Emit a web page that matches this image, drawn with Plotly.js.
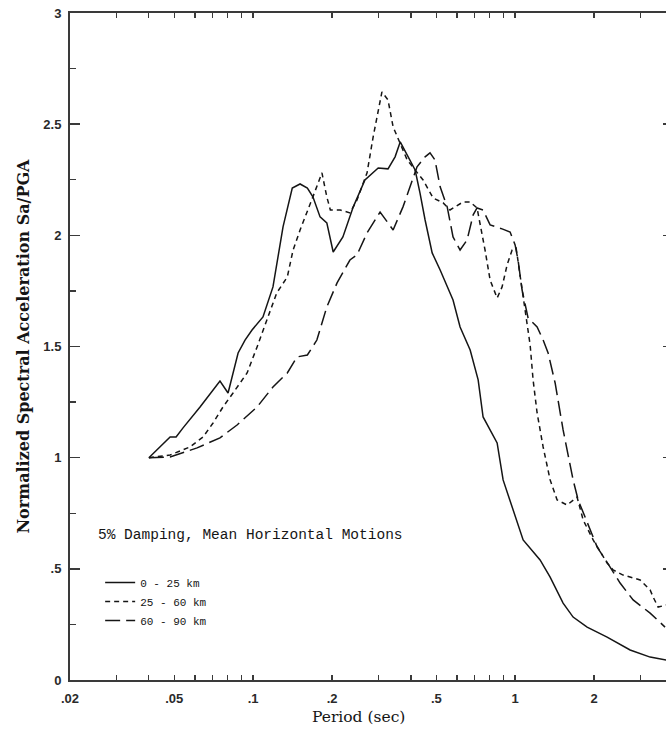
<!DOCTYPE html>
<html>
<head>
<meta charset="utf-8">
<script src="https://cdn.plot.ly/plotly-3.0.1.min.js"></script>
<style>
  html, body { margin: 0; padding: 0; overflow: hidden; background: #fff; }
</style>
</head>
<body>
<div id="chart"></div>
<script>
// Mean normalized response spectra (5% damping), grouped by source distance.
const period_0_25 = [0.04, 0.0441, 0.0482, 0.0508, 0.054, 0.0627, 0.0703, 0.0747, 0.0802, 0.0876,
  0.0931, 0.099, 0.109, 0.119, 0.130, 0.141, 0.151, 0.161, 0.169, 0.180, 0.191, 0.202, 0.220,
  0.241, 0.267, 0.300, 0.327, 0.348, 0.364, 0.387, 0.415, 0.433, 0.453, 0.482, 0.517, 0.579,
  0.616, 0.673, 0.722, 0.754, 0.853, 0.899, 0.973, 1.072, 1.244, 1.359, 1.523, 1.663, 1.881,
  2.242, 2.744, 3.272, 3.77];
const sa_0_25 = [1.0, 1.048, 1.093, 1.093, 1.134, 1.228, 1.305, 1.345, 1.291, 1.471,
  1.529, 1.574, 1.633, 1.768, 2.038, 2.213, 2.231, 2.213, 2.173, 2.083, 2.056, 1.925, 1.993,
  2.128, 2.249, 2.303, 2.299, 2.353, 2.42, 2.362, 2.294, 2.191, 2.069, 1.921, 1.844, 1.709,
  1.588, 1.484, 1.350, 1.183, 1.066, 0.900, 0.778, 0.630, 0.540, 0.463, 0.346, 0.283, 0.238,
  0.193, 0.135, 0.103, 0.090];

const period_25_60 = [0.04, 0.0482, 0.0574, 0.0644, 0.0703, 0.0767, 0.0838, 0.0948, 0.1035, 0.116,
  0.123, 0.135, 0.142, 0.151, 0.161, 0.169, 0.183, 0.191, 0.197, 0.215, 0.234, 0.249, 0.272,
  0.287, 0.310, 0.327, 0.342, 0.364, 0.387, 0.415, 0.445, 0.486, 0.531, 0.564, 0.632, 0.673,
  0.715, 0.767, 0.802, 0.853, 0.891, 0.931, 0.973, 1.008, 1.062, 1.091, 1.140, 1.170, 1.212,
  1.278, 1.359, 1.445, 1.578, 1.722, 1.816, 1.983, 2.242, 2.363, 2.580, 2.996, 3.272, 3.36,
  3.51, 3.77];
const sa_25_60 = [1.0, 1.012, 1.048, 1.093, 1.156, 1.228, 1.291, 1.381, 1.498, 1.664,
  1.741, 1.813, 1.934, 2.024, 2.114, 2.173, 2.281, 2.173, 2.114, 2.114, 2.101, 2.159, 2.281,
  2.443, 2.645, 2.609, 2.488, 2.416, 2.339, 2.294, 2.249, 2.168, 2.146, 2.114, 2.150, 2.150,
  2.123, 1.934, 1.799, 1.718, 1.768, 1.867, 1.934, 1.943, 1.754, 1.651, 1.507, 1.350, 1.201,
  1.048, 0.900, 0.810, 0.787, 0.823, 0.720, 0.630, 0.526, 0.495, 0.472, 0.450, 0.405, 0.373,
  0.328, 0.337];

const period_60_90 = [0.04, 0.0482, 0.0611, 0.0747, 0.0868, 0.1035, 0.119, 0.135, 0.147, 0.161,
  0.175, 0.191, 0.209, 0.234, 0.249, 0.272, 0.305, 0.324, 0.342, 0.373, 0.397, 0.422, 0.453,
  0.473, 0.494, 0.517, 0.550, 0.579, 0.616, 0.655, 0.691, 0.715, 0.754, 0.802, 0.891, 0.956,
  0.999, 1.025, 1.062, 1.120, 1.212, 1.278, 1.335, 1.395, 1.42, 1.523, 1.663, 1.738, 1.881,
  2.054, 2.302, 2.513, 2.818, 3.272, 3.73];
const sa_60_90 = [1.0, 1.003, 1.044, 1.089, 1.147, 1.228, 1.318, 1.381, 1.453, 1.462,
  1.529, 1.678, 1.786, 1.889, 1.912, 2.011, 2.105, 2.06, 2.024, 2.128, 2.218, 2.308, 2.353,
  2.371, 2.339, 2.218, 2.128, 1.993, 1.934, 1.979, 2.092, 2.123, 2.114, 2.047, 2.029, 2.015,
  1.957, 1.889, 1.754, 1.628, 1.588, 1.529, 1.471, 1.381, 1.336, 1.125, 0.900, 0.810, 0.706,
  0.598, 0.508, 0.436, 0.360, 0.301, 0.238];

const seriesNames = ['0 - 25 km', '25 - 60 km', '60 - 90 km'];

const xTickVals = [0.02, 0.05, 0.1, 0.2, 0.5, 1, 2];
const xTickText = ['.02', '.05', '.1', '.2', '.5', '1', '2'];
const xMinorVals = [0.03, 0.04, 0.06, 0.07, 0.08, 0.09, 0.3, 0.4, 0.6, 0.7, 0.8, 0.9, 3];
const xDecadeVals = [0.1, 1];
const yTickVals = [0, 0.5, 1, 1.5, 2, 2.5, 3];
const yTickText = ['0', '.5', '1', '1.5', '2', '2.5', '3'];
const yMinorVals = [0.25, 0.75, 1.25, 1.75, 2.25, 2.75];

const ink = '#151515';
const axisInk = '#3a3a3a';
const serif = 'DejaVu Serif, serif';
const mono = 'Liberation Mono, monospace';
const sans = 'Liberation Sans, Arial, sans-serif';

function curve(x, y, name, dash) {
  return {
    type: 'scatter', mode: 'lines', x: x, y: y, name: name,
    line: { color: ink, width: 1.5, dash: dash },
    hoverinfo: 'x+y+name'
  };
}

const data = [
  curve(period_0_25, sa_0_25, seriesNames[0], 'solid'),
  curve(period_25_60, sa_25_60, seriesNames[1], '5px,4px'),
  curve(period_60_90, sa_60_90, seriesNames[2], '15px,6px')
];

const xRange = [Math.log10(0.02), Math.log10(4)];
const tickFont = { family: sans, size: 13, weight: 'bold', color: '#2a2a2a' };

const layout = {
  width: 680, height: 733,
  margin: { l: 70, r: 7, t: 13, b: 53 },
  paper_bgcolor: '#fff', plot_bgcolor: '#fff',
  showlegend: true,
  legend: {
    x: 0.05, y: 0.168, xanchor: 'left', yanchor: 'top',
    bgcolor: 'rgba(0,0,0,0)', borderwidth: 0,
    font: { family: mono, size: 11, color: ink },
    itemwidth: 30, tracegroupgap: 0
  },
  xaxis: {
    type: 'log', range: xRange, autorange: false,
    tickmode: 'array', tickvals: xTickVals, ticktext: xTickText,
    ticks: 'inside', ticklen: 5, tickwidth: 1.5, tickcolor: axisInk,
    minor: { tickmode: 'array', tickvals: xMinorVals, ticks: 'inside', ticklen: 5, tickwidth: 1.2, tickcolor: axisInk, showgrid: false },
    showline: true, linecolor: axisInk, linewidth: 2, mirror: 'ticks',
    showgrid: false, zeroline: false,
    tickfont: tickFont,
    ticklabelstandoff: 5
  },
  xaxis2: {
    type: 'log', range: xRange, autorange: false, overlaying: 'x', anchor: 'y', side: 'bottom',
    tickmode: 'array', tickvals: xDecadeVals, ticks: 'inside', ticklen: 10, tickwidth: 1.5, tickcolor: axisInk,
    showticklabels: false, showline: false, showgrid: false, zeroline: false
  },
  yaxis: {
    range: [0, 3], autorange: false,
    tickmode: 'array', tickvals: yTickVals, ticktext: yTickText,
    ticks: 'inside', ticklen: 10, tickwidth: 1.5, tickcolor: axisInk,
    minor: { tickmode: 'array', tickvals: yMinorVals, ticks: 'inside', ticklen: 6, tickwidth: 1.2, tickcolor: axisInk, showgrid: false },
    showline: true, linecolor: axisInk, linewidth: 2, mirror: 'ticks',
    showgrid: false, zeroline: false,
    tickfont: tickFont,
    ticklabelstandoff: 4,
    title: { text: 'Normalized Spectral Acceleration Sa/PGA', font: { family: serif, size: 16, weight: 'bold', color: ink }, standoff: 10 }
  },
  annotations: [
    {
      xref: 'paper', yref: 'paper', x: 0.043, y: 0.2174, xanchor: 'left', yanchor: 'middle',
      text: '5% Damping, Mean Horizontal Motions', showarrow: false,
      font: { family: mono, size: 14.5, color: ink }
    },
    {
      // x-axis title, set slightly left of the plot centre
      xref: 'paper', yref: 'paper', x: 0.478, y: -0.0555, xanchor: 'center', yanchor: 'middle',
      text: 'Period (sec)', showarrow: false,
      font: { family: serif, size: 15.5, color: ink }
    }
  ]
};

Plotly.newPlot('chart', data, layout, { displayModeBar: false, staticPlot: true });
</script>
</body>
</html>
